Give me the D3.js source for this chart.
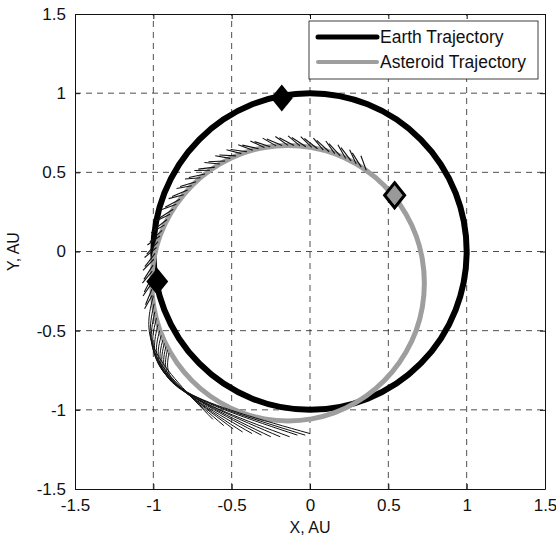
<!DOCTYPE html>
<html>
<head>
<meta charset="utf-8">
<script src="https://cdn.jsdelivr.net/npm/d3@7"></script>
<style>
  body { margin: 0; background: #fff; }
  svg text { font-family: "Liberation Sans", Arial, sans-serif; fill: #111; }
</style>
</head>
<body>
<div id="chart"></div>
<script>
// tick values (same on both axes)
const ticks = [-1.5, -1, -0.5, 0, 0.5, 1, 1.5]

// earth orbit: circle of radius 1 AU round the sun
const earthOrbit = { cx: 0, cy: 0, r: 1 }

// asteroid trajectory (AU)
const asteroidX = [0.73, 0.717, 0.678, 0.613, 0.526, 0.419, 0.295, 0.158, 0.011, -0.14, -0.291, -0.438,
  -0.575, -0.699, -0.806, -0.893, -0.958, -0.997, -1.01, -0.997, -0.958, -0.893, -0.806, -0.699,
  -0.575, -0.438, -0.291, -0.14, 0.011, 0.158, 0.295, 0.419, 0.526, 0.613, 0.678, 0.717]
const asteroidY = [-0.2, -0.049, 0.098, 0.235, 0.359, 0.466, 0.553, 0.618, 0.657, 0.67, 0.657, 0.618,
  0.553, 0.466, 0.359, 0.235, 0.098, -0.049, -0.2, -0.351, -0.498, -0.635, -0.759, -0.866,
  -0.953, -1.018, -1.057, -1.07, -1.057, -1.018, -0.953, -0.866, -0.759, -0.635, -0.498, -0.351]

// short thin strokes along the outer side of the asteroid path: [x1, y1, x2, y2]
const fringe = [
  [0.359, 0.513, 0.325, 0.605], [0.295, 0.553, 0.253, 0.643], [0.228, 0.588, 0.178, 0.674],
  [0.158, 0.618, 0.101, 0.698], [0.085, 0.640, 0.022, 0.716], [0.011, 0.657, -0.059, 0.726],
  [-0.064, 0.667, -0.14, 0.73], [-0.14, 0.67, -0.221, 0.726], [-0.216, 0.667, -0.302, 0.716],
  [-0.291, 0.657, -0.381, 0.698], [-0.365, 0.640, -0.458, 0.674], [-0.438, 0.618, -0.533, 0.643],
  [-0.508, 0.588, -0.605, 0.605], [-0.575, 0.553, -0.674, 0.562], [-0.639, 0.513, -0.738, 0.512],
  [-0.699, 0.466, -0.798, 0.458], [-0.755, 0.415, -0.852, 0.398], [-0.806, 0.359, -0.902, 0.334],
  [-0.853, 0.299, -0.945, 0.265], [-0.893, 0.235, -0.983, 0.193], [-0.928, 0.168, -1.014, 0.118],
  [-0.958, 0.098, -1.038, 0.041], [-0.980, 0.025, -1.056, -0.038], [-0.997, -0.049, -1.066, -0.119],
  [-1.007, -0.124, -1.07, -0.2], [-1.01, -0.2, -1.066, -0.281], [-1.007, -0.276, -1.056, -0.362],
  [0.327, 0.533, 0.270, 0.623], [0.262, 0.572, 0.198, 0.656], [0.193, 0.604, 0.121, 0.682],
  [0.122, 0.630, 0.043, 0.702], [0.048, 0.649, -0.036, 0.714], [-0.026, 0.662, -0.116, 0.72],
  [-0.102, 0.669, -0.196, 0.718], [-0.178, 0.669, -0.276, 0.710], [-0.254, 0.662, -0.354, 0.694],
  [-0.328, 0.649, -0.432, 0.672], [-0.402, 0.630, -0.507, 0.644], [-0.473, 0.604, -0.579, 0.609],
  [-0.542, 0.572, -0.648, 0.567], [-0.607, 0.533, -0.713, 0.520], [-0.670, 0.490, -0.773, 0.467],
  [-0.728, 0.441, -0.829, 0.410], [-0.781, 0.388, -0.880, 0.347], [-0.830, 0.330, -0.925, 0.280],
  [-0.873, 0.267, -0.963, 0.210], [-0.912, 0.202, -0.996, 0.138], [-0.944, 0.133, -1.022, 0.061],
  [-0.970, 0.062, -1.042, -0.017], [-0.989, -0.012, -1.054, -0.096], [-1.002, -0.086, -1.06, -0.176],
  [-1.009, -0.162, -1.058, -0.256], [-1.009, -0.238, -1.05, -0.336]
]

// long strokes fanning out under the lower left of the path: [start, bend, end]
const fan = [
  [[-1.0, -0.28], [-0.99, -0.62], [-0.62, -1.06]],
  [[-0.995, -0.33], [-0.97, -0.68], [-0.55, -1.10]],
  [[-0.99, -0.38], [-0.955, -0.72], [-0.49, -1.12]],
  [[-0.98, -0.42], [-0.94, -0.75], [-0.43, -1.14]],
  [[-0.97, -0.46], [-0.92, -0.78], [-0.37, -1.15]],
  [[-0.96, -0.50], [-0.90, -0.80], [-0.31, -1.16]],
  [[-0.95, -0.53], [-0.88, -0.82], [-0.25, -1.17]],
  [[-0.94, -0.56], [-0.86, -0.84], [-0.19, -1.17]],
  [[-0.93, -0.58], [-0.84, -0.86], [-0.13, -1.17]],
  [[-0.92, -0.60], [-0.82, -0.87], [-0.08, -1.16]],
  [[-0.91, -0.62], [-0.80, -0.88], [-0.03, -1.16]],
  [[-0.90, -0.64], [-0.78, -0.89], [0.0, -1.15]]
]

// diamond markers
const earthMarks = [{ x: -0.18, y: 0.97 }, { x: -0.975, y: -0.19 }]
const asteroidMarks = [{ x: 0.54, y: 0.355 }]

const legendItems = [
  { label: "Earth Trajectory", color: "#000", width: 5 },
  { label: "Asteroid Trajectory", color: "#9e9e9e", width: 4 }
]

const svgWidth = 556
const svgHeight = 540
const margin = { top: 14, right: 11, bottom: 51, left: 75 }

const svg = d3.select("#chart")
  .append("svg")
  .attr("width", svgWidth)
  .attr("height", svgHeight)

const x = d3.scaleLinear().domain([-1.5, 1.5]).range([margin.left, svgWidth - margin.right])
const y = d3.scaleLinear().domain([-1.5, 1.5]).range([svgHeight - margin.bottom, margin.top])

const fmt = d => String(d)

// grid
const inner = ticks.slice(1, -1)
svg.append("g").selectAll("line")
  .data(inner)
  .join("line")
  .attr("x1", d => x(d)).attr("x2", d => x(d))
  .attr("y1", y(-1.5)).attr("y2", y(1.5))
  .attr("stroke", "#222").attr("stroke-width", 0.8)
  .attr("stroke-dasharray", "6,5")
svg.append("g").selectAll("line")
  .data(inner)
  .join("line")
  .attr("y1", d => y(d)).attr("y2", d => y(d))
  .attr("x1", x(-1.5)).attr("x2", x(1.5))
  .attr("stroke", "#222").attr("stroke-width", 0.8)
  .attr("stroke-dasharray", "6,5")

// axes, matlab style: ticks pointing in
svg.append("g")
  .attr("transform", `translate(0,${y(-1.5)})`)
  .call(d3.axisBottom(x).tickValues(ticks).tickFormat(fmt).tickSizeInner(-5).tickSizeOuter(0).tickPadding(10))
svg.append("g")
  .attr("transform", `translate(${x(-1.5)},0)`)
  .call(d3.axisLeft(y).tickValues(ticks).tickFormat(fmt).tickSizeInner(-5).tickSizeOuter(0).tickPadding(9))
svg.append("g")
  .attr("transform", `translate(0,${y(1.5)})`)
  .call(d3.axisTop(x).tickValues(ticks).tickFormat("").tickSizeInner(-5).tickSizeOuter(0))
svg.append("g")
  .attr("transform", `translate(${x(1.5)},0)`)
  .call(d3.axisRight(y).tickValues(ticks).tickFormat("").tickSizeInner(-5).tickSizeOuter(0))

svg.selectAll(".domain").attr("stroke", "#111")
svg.selectAll(".tick line").attr("stroke", "#111")
svg.selectAll(".tick text")
  .attr("font-size", 17)
  .attr("font-family", "'Liberation Sans', Arial, sans-serif")
  .attr("fill", "#111")

// axis titles
svg.append("text")
  .attr("x", x(0)).attr("y", 533)
  .attr("text-anchor", "middle")
  .attr("font-size", 16)
  .text("X, AU")
svg.append("text")
  .attr("transform", `translate(19,${y(0)}) rotate(-90)`)
  .attr("text-anchor", "middle")
  .attr("font-size", 16)
  .text("Y, AU")

// earth orbit
svg.append("ellipse")
  .attr("cx", x(earthOrbit.cx)).attr("cy", y(earthOrbit.cy))
  .attr("rx", x(earthOrbit.r) - x(0)).attr("ry", y(0) - y(earthOrbit.r))
  .attr("fill", "none")
  .attr("stroke", "#000")
  .attr("stroke-width", 6)

// asteroid path
const pts = asteroidX.map((d, i) => [d, asteroidY[i]])
svg.append("path")
  .datum(pts)
  .attr("fill", "none")
  .attr("stroke", "#9e9e9e")
  .attr("stroke-width", 5)
  .attr("d", d3.line().x(d => x(d[0])).y(d => y(d[1])).curve(d3.curveCardinalClosed))

// fringe + fan strokes
svg.append("g").selectAll("line")
  .data(fringe)
  .join("line")
  .attr("x1", d => x(d[0])).attr("y1", d => y(d[1]))
  .attr("x2", d => x(d[2])).attr("y2", d => y(d[3]))
  .attr("stroke", "#111")
  .attr("stroke-width", 1.1)
svg.append("g").selectAll("path")
  .data(fan)
  .join("path")
  .attr("fill", "none")
  .attr("stroke", "#111")
  .attr("stroke-width", 1)
  .attr("d", d3.line().x(d => x(d[0])).y(d => y(d[1])).curve(d3.curveNatural))

// diamonds
const diamond = (w, h) => `M0,${-h / 2}L${w / 2},0L0,${h / 2}L${-w / 2},0Z`
svg.append("g").selectAll("path")
  .data(earthMarks)
  .join("path")
  .attr("transform", d => `translate(${x(d.x)},${y(d.y)})`)
  .attr("d", diamond(22, 27))
  .attr("fill", "#000")
svg.append("g").selectAll("path")
  .data(asteroidMarks)
  .join("path")
  .attr("transform", d => `translate(${x(d.x)},${y(d.y)})`)
  .attr("d", diamond(20, 25))
  .attr("fill", "#999")
  .attr("stroke", "#000")
  .attr("stroke-width", 3)

// legend
const legend = svg.append("g").attr("transform", "translate(309,21)")
legend.append("rect")
  .attr("width", 229).attr("height", 58)
  .attr("fill", "#fff")
  .attr("stroke", "#111")
  .attr("stroke-width", 0.8)
const rows = legend.selectAll("g.row")
  .data(legendItems)
  .join("g")
  .attr("class", "row")
  .attr("transform", (d, i) => `translate(0,${16 + i * 25})`)
rows.append("line")
  .attr("x1", 9).attr("x2", 68)
  .attr("stroke", d => d.color)
  .attr("stroke-width", d => d.width)
  .attr("stroke-linecap", "round")
rows.append("text")
  .attr("x", 71).attr("y", 6)
  .attr("font-size", 17.5)
  .text(d => d.label)
</script>
</body>
</html>
